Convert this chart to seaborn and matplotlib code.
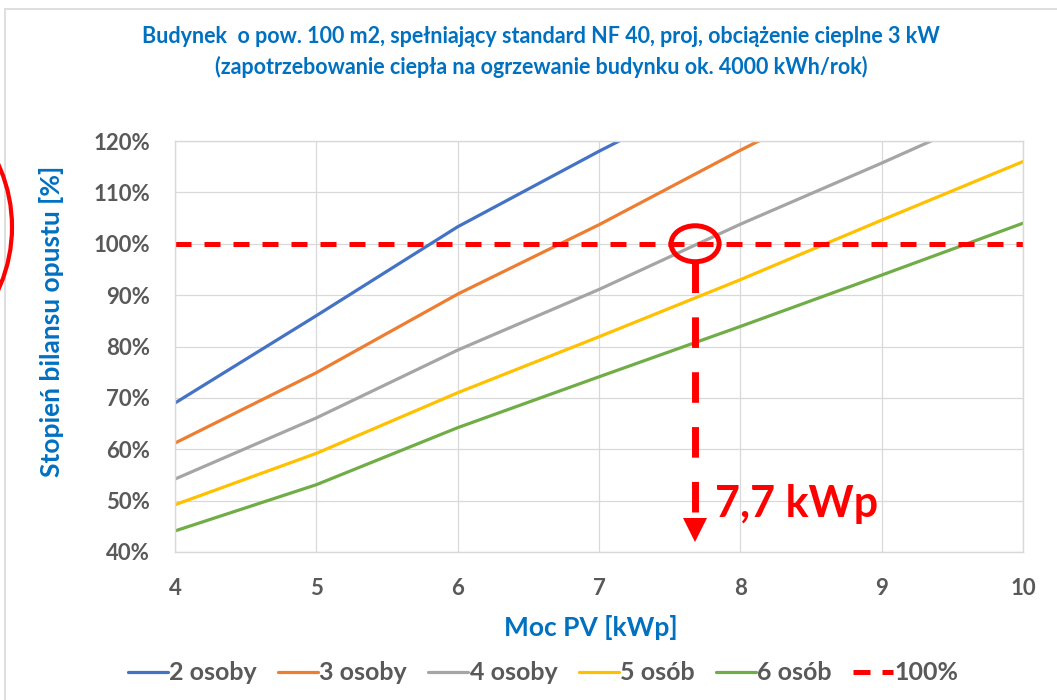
import numpy as np
import pandas as pd
import matplotlib
matplotlib.use("Agg")
import matplotlib.pyplot as plt
from matplotlib.patches import Ellipse, Rectangle
import seaborn as sns

# ---- data ----
x_kwp = [4, 5, 6, 7, 8, 9, 10]
s_2_osoby = [69.0, 86.0, 103.3, 118.0, 132.0, np.nan, np.nan]
s_3_osoby = [61.2, 74.9, 90.2, 103.7, 118.2, 132.0, np.nan]
s_4_osoby = [54.2, 66.1, 79.3, 91.1, 103.8, 115.7, 128.0]
s_5_osob = [49.2, 59.2, 71.0, 81.9, 93.0, 104.6, 116.0]
s_6_osob = [44.1, 53.1, 64.2, 74.1, 83.9, 93.9, 104.0]
series_names = ["2 osoby", "3 osoby", "4 osoby", "5 osób", "6 osób"]
ref_x = [4, 10]
ref_y = [100, 100]
ref_name = "100%"
marker_x = 7.7
marker_label = "7,7 kWp"
y_ticks = [40, 50, 60, 70, 80, 90, 100, 110, 120]
x_ticks = [4, 5, 6, 7, 8, 9, 10]
title = ("Budynek  o pow. 100 m2, spełniający standard NF 40, proj, obciążenie cieplne 3 kW\n"
         "(zapotrzebowanie ciepła na ogrzewanie budynku ok. 4000 kWh/rok)")
x_label = "Moc PV [kWp]"
y_label = "Stopień bilansu opustu [%]"

colors = ["#4472C4", "#ED7D31", "#A5A5A5", "#FFC000", "#70AD47"]

rows = []
for name, vals in zip(series_names, [s_2_osoby, s_3_osoby, s_4_osoby, s_5_osob, s_6_osob]):
    for xv, yv in zip(x_kwp, vals):
        rows.append({"x": xv, "y": yv, "seria": name})
df = pd.DataFrame(rows).dropna()

sns.set_theme(style="whitegrid")
plt.rcParams["font.family"] = ["Lato", "DejaVu Sans"]

W, H = 1057, 700
fig = plt.figure(figsize=(W / 100, H / 100), dpi=100)
fig.patch.set_facecolor("white")
ax = fig.add_axes([175 / W, 1 - 552 / H, (1023 - 175) / W, (552 - 141) / H])

sns.lineplot(data=df, x="x", y="y", hue="seria", palette=colors, hue_order=series_names,
             estimator=None, sort=True, lw=2.3, ax=ax, legend=True)
ax.plot(ref_x, ref_y, color="#FF0000", lw=3.6, dashes=(3.2, 2.6), label=ref_name)

ax.set_xlim(4, 10)
ax.set_ylim(40, 120)
ax.set_xticks(x_ticks)
ax.set_yticks(y_ticks)
ax.set_yticklabels([f"{v}%" for v in y_ticks])
ax.tick_params(axis="both", length=0, labelsize=16, labelcolor="#595959")
ax.tick_params(axis="y", pad=18)
ax.tick_params(axis="x", pad=19)
for lab in ax.get_xticklabels() + ax.get_yticklabels():
    lab.set_fontweight("bold")
ax.grid(True, color="#D9D9D9", lw=0.9)
for sp in ax.spines.values():
    sp.set_color("#D9D9D9")
    sp.set_linewidth(1.0)
ax.set_xlabel("")
ax.set_ylabel("")
ax.set_facecolor("white")

# annotation: circle, dashed arrow, label
ax.add_patch(Ellipse((7.68, 100), 0.34, 7.0, fill=False, edgecolor="#FF0000", lw=3.6, zorder=5))
ax.plot([marker_x - 0.02, marker_x - 0.02], [96.5, 46.65], color="#FF0000", lw=5.0,
        dashes=(4.4, 3.5), solid_capstyle="butt", dash_capstyle="butt", zorder=5)
ax.plot([marker_x - 0.02], [44.3], marker="v", markersize=17.3, color="#FF0000",
        markeredgewidth=0, zorder=5)
ax.text(7.82, 46.9, marker_label, color="#FF0000", fontsize=31, fontweight="bold",
        ha="left", va="baseline", zorder=6)

# legend
handles, labels = ax.get_legend_handles_labels()
ax.get_legend().remove()
leg = fig.legend(handles, labels, loc="center", bbox_to_anchor=(543 / W, 1 - 673 / H), ncol=6,
                 frameon=False, prop={"size": 18, "weight": "bold"}, handlelength=1.6,
                 handletextpad=0.05, columnspacing=0.85)
for t in leg.get_texts():
    t.set_color("#595959")
for lh in leg.get_lines():
    lh.set_linewidth(2.3)
leg.get_lines()[-1].set_linewidth(3.6)
leg.get_lines()[-1].set_dashes((3.4, 2.4))

# titles and axis labels
fig.text(541 / W, 1 - 52 / H, title, ha="center", va="center", color="#0070C0",
         fontsize=15.5, fontweight="bold", linespacing=1.5)
fig.text(52 / W, 1 - 321 / H, y_label, rotation=90, ha="center", va="center",
         color="#0070C0", fontsize=19, fontweight="bold")
fig.text(591 / W, 1 - 627 / H, x_label, ha="center", va="center",
         color="#0070C0", fontsize=19, fontweight="bold")

# chart frame and partial red circle at the left edge
fig.patches.append(Rectangle((4.5 / W, -0.1), 1.2, (H - 9.5) / H + 0.1, transform=fig.transFigure,
                             fill=False, edgecolor="#D9D9D9", lw=1.2, figure=fig))
fig.patches.append(Ellipse((-139 / W, 1 - 227 / H), 302 / W, 302 / H, transform=fig.transFigure,
                           fill=False, edgecolor="#FF0000", lw=3.0, figure=fig))

fig.savefig("out.png", dpi=100)
